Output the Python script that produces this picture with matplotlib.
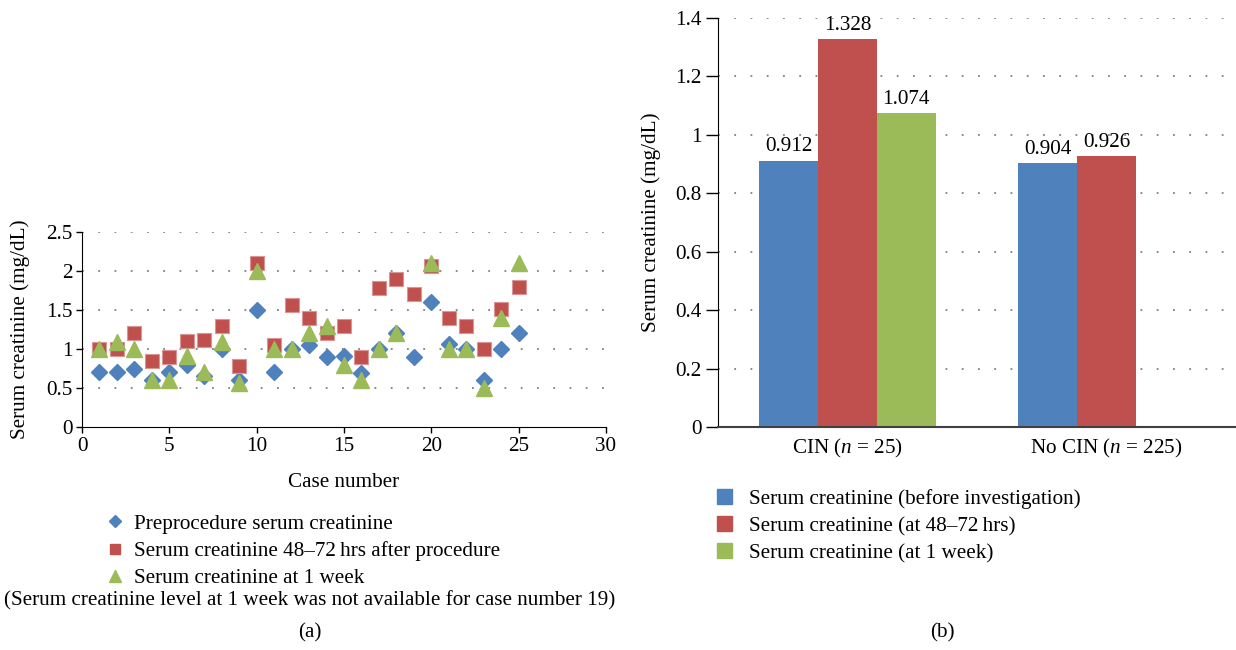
import numpy as np
import matplotlib
matplotlib.use("Agg")
import matplotlib.pyplot as plt
from matplotlib.lines import Line2D
from matplotlib.patches import Patch
import matplotlib.ticker as ticker

plt.rcParams['font.family'] = ['Liberation Serif', 'DejaVu Serif']
plt.rcParams['mathtext.fontset'] = 'custom'
plt.rcParams['mathtext.rm'] = 'Liberation Serif'
plt.rcParams['mathtext.it'] = 'Liberation Serif:italic'

# (a) serum creatinine per CIN case
case_no = list(range(1, 26))
pre_proc = [0.70, 0.70, 0.75, 0.60, 0.70, 0.80, 0.65, 1.00, 0.60, 1.50,
            0.71, 1.00, 1.05, 0.90, 0.91, 0.69, 1.00, 1.20, 0.90, 1.60,
            1.07, 1.00, 0.60, 1.00, 1.20]
after_48_72 = [1.00, 1.00, 1.20, 0.85, 0.90, 1.10, 1.11, 1.30, 0.78, 2.10,
               1.05, 1.57, 1.40, 1.20, 1.30, 0.90, 1.78, 1.90, 1.70, 2.07,
               1.40, 1.30, 1.00, 1.51, 1.80]
at_1_week = [1.00, 1.09, 1.00, 0.60, 0.60, 0.91, 0.70, 1.09, 0.57, 2.00,
             1.00, 1.00, 1.20, 1.30, 0.80, 0.60, 1.00, 1.20, np.nan, 2.10,
             1.00, 1.00, 0.50, 1.40, 2.10]

# (b) group means
groups = ['CIN ($n$ = 25)', 'No CIN ($n$ = 225)']
mean_before = [0.912, 0.904]
mean_48_72 = [1.328, 0.926]
mean_1_week = [1.074, np.nan]

BLUE = '#4F81BD'
RED = '#C0504D'
GREEN = '#9BBB59'
FS = 15.2

fig = plt.figure(figsize=(12.36, 6.5), dpi=100)

# ---------------- panel (a) ----------------
ax1 = fig.add_axes([82 / 1236, 1 - 427 / 650, 524 / 1236, 195 / 650])
ax1.plot(case_no, pre_proc, ls='none', marker='D', ms=8.5, color=BLUE, mec=BLUE)
ax1.plot(case_no, after_48_72, ls='none', marker='s', ms=9.5, color=RED, mec='#D99694', mew=0.8)
ax1.plot(case_no, at_1_week, ls='none', marker='^', ms=11, color=GREEN, mec=GREEN)
ax1.set_xlim(0, 30)
ax1.set_ylim(0, 2.5)
ax1.xaxis.set_major_locator(ticker.MultipleLocator(5))
ax1.yaxis.set_major_locator(ticker.MultipleLocator(0.5))
ax1.yaxis.set_major_formatter(ticker.FuncFormatter(lambda v, p: '%g' % v))
ax1.tick_params(labelsize=FS, direction='out', length=4, width=1, pad=3)
for v in [0.5, 1.0, 1.5, 2.0, 2.5]:
    ax1.axhline(v, color='#808080', ls=(0, (1, 8)), lw=1.3, zorder=0)
ax1.spines['top'].set_visible(False)
ax1.spines['right'].set_visible(False)
ax1.set_xlabel('Case number', fontsize=FS)
ax1.set_ylabel('Serum creatinine (mg/dL)', fontsize=FS)
ax1.xaxis.set_label_coords(0.5, -0.235)
ax1.yaxis.set_label_coords(-0.1, 0.5)

h1 = [Line2D([], [], ls='none', marker='D', ms=6.5, color=BLUE),
      Line2D([], [], ls='none', marker='s', ms=7.5, color=RED),
      Line2D([], [], ls='none', marker='^', ms=8, color=GREEN)]
fig.legend(h1, ['Preprocedure serum creatinine',
                'Serum creatinine 48\u201372\u2009hrs after procedure',
                'Serum creatinine at 1 week'],
           loc='upper left', bbox_to_anchor=(104 / 1236, 1 - 514 / 650),
           frameon=False, fontsize=FS, handlelength=1.0, handletextpad=0.4,
           labelspacing=0.35, borderaxespad=0, borderpad=0)
fig.text(310 / 1236, 1 - 601 / 650,
         '(Serum creatinine level at 1 week was not available for case number 19)',
         ha='center', va='center', fontsize=FS)
fig.text(310 / 1236, 1 - 633 / 650, '(a)', ha='center', va='center', fontsize=FS)

# ---------------- panel (b) ----------------
ax2 = fig.add_axes([718 / 1236, 1 - 427 / 650, 518 / 1236, 409 / 650])
x = np.arange(len(groups))
w = 0.227
b1 = ax2.bar(x - w, mean_before, w, color=BLUE)
b2 = ax2.bar(x, mean_48_72, w, color=RED)
b3 = ax2.bar(x + w, mean_1_week, w, color=GREEN)
for bars, vals in [(b1, mean_before), (b2, mean_48_72), (b3, mean_1_week)]:
    labels = ['' if np.isnan(v) else '%.3f' % v for v in vals]
    ax2.bar_label(bars, labels=labels, padding=3, fontsize=FS)
ax2.set_xlim(-0.5, 1.5)
ax2.set_ylim(0, 1.4)
ax2.set_xticks(x)
ax2.set_xticklabels(groups)
ax2.yaxis.set_major_locator(ticker.MultipleLocator(0.2))
ax2.yaxis.set_major_formatter(ticker.FuncFormatter(lambda v, p: '%g' % round(v, 1)))
ax2.tick_params(axis='y', labelsize=FS, direction='out', length=9, width=1, pad=3)
ax2.tick_params(axis='x', labelsize=FS, length=0, pad=7)
for v in [0.2, 0.4, 0.6, 0.8, 1.0, 1.2, 1.4]:
    ax2.axhline(v, color='#808080', ls=(0, (1, 8)), lw=1.3, zorder=0)
ax2.spines['top'].set_visible(False)
ax2.spines['right'].set_visible(False)
ax2.spines['bottom'].set_color('#404040')
ax2.spines['bottom'].set_linewidth(1.5)
ax2.set_ylabel('Serum creatinine (mg/dL)', fontsize=FS)
ax2.yaxis.set_label_coords(-0.11, 0.5)

h2 = [Patch(color=BLUE), Patch(color=RED), Patch(color=GREEN)]
fig.legend(h2, ['Serum creatinine (before investigation)',
                'Serum creatinine (at 48\u201372\u2009hrs)',
                'Serum creatinine (at 1 week)'],
           loc='upper left', bbox_to_anchor=(717 / 1236, 1 - 489 / 650),
           frameon=False, fontsize=FS, handlelength=0.7, handleheight=0.7,
           handletextpad=0.8, labelspacing=0.35, borderaxespad=0, borderpad=0)
fig.text(942 / 1236, 1 - 633 / 650, '(b)', ha='center', va='center', fontsize=FS)

fig.savefig('out.png', dpi=100)
